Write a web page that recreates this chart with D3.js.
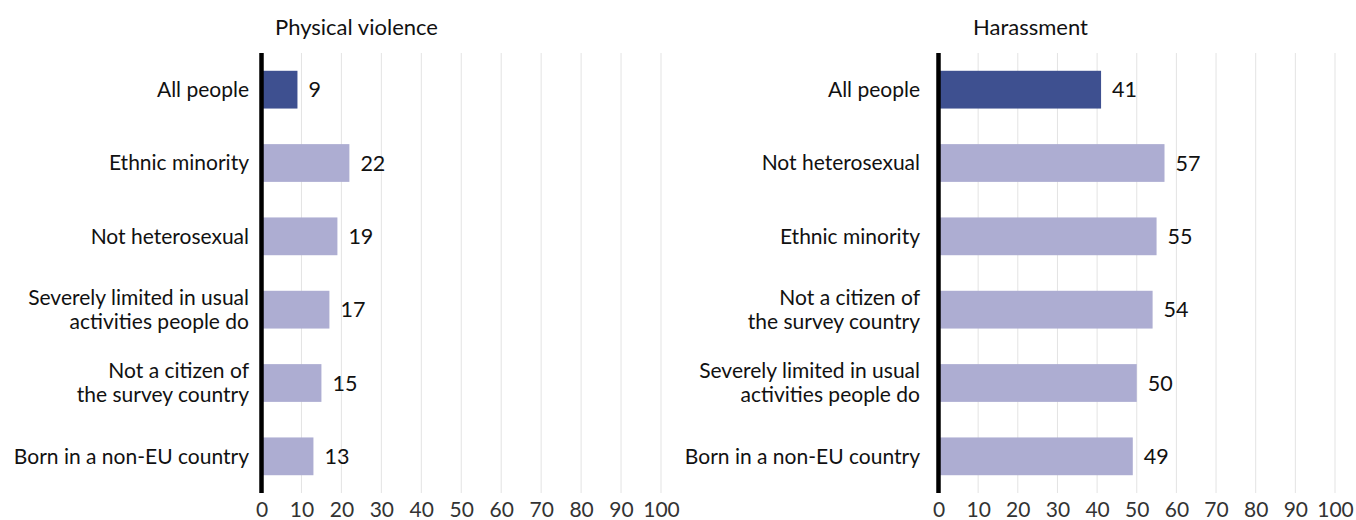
<!DOCTYPE html>
<html>
<head>
<meta charset="utf-8">
<script src="https://cdn.jsdelivr.net/npm/d3@7/dist/d3.min.js"></script>
<style>
  html, body { margin: 0; padding: 0; background: #fff; }
  svg { display: block; font-family: Lato, "Open Sans", sans-serif; }
</style>
</head>
<body>
<svg id="chart" width="1356" height="520"></svg>
<script>
// Share of people who experienced each type of incident (%)
const violenceCategories = [
  "All people",
  "Ethnic minority",
  "Not heterosexual",
  "Severely limited in usual|activities people do",
  "Not a citizen of|the survey country",
  "Born in a non-EU country"
];
const violenceValues = [9, 22, 19, 17, 15, 13];

const harassmentCategories = [
  "All people",
  "Not heterosexual",
  "Ethnic minority",
  "Not a citizen of|the survey country",
  "Severely limited in usual|activities people do",
  "Born in a non-EU country"
];
const harassmentValues = [41, 57, 55, 54, 50, 49];

const panelTitles = ["Physical violence", "Harassment"];
const tickValues = [0, 10, 20, 30, 40, 50, 60, 70, 80, 90, 100];

const svg = d3.select("#chart");
const DARK = "#3e5090";
const LIGHT = "#adadd2";

function drawPanel(cfg) {
  const x = d3.scaleLinear().domain([0, 100]).range([cfg.x0, cfg.x1]);
  const y = d3.scaleBand()
    .domain(cfg.categories)
    .range([53, 493])
    .paddingInner(0.485)
    .paddingOuter(0.2425);

  const g = svg.append("g");

  // vertical gridlines
  g.append("g")
    .selectAll("line")
    .data(tickValues.slice(1))
    .join("line")
    .attr("x1", d => x(d)).attr("x2", d => x(d))
    .attr("y1", 53).attr("y2", 493)
    .attr("stroke", "#e3e3e3")
    .attr("stroke-width", 1);

  // bottom axis tick labels
  const axis = d3.axisBottom(x).tickValues(tickValues).tickSize(0).tickPadding(0);
  const ax = g.append("g").attr("transform", "translate(0,499)").call(axis);
  ax.select(".domain").remove();
  ax.selectAll("text")
    .attr("font-family", "Lato, 'Open Sans', sans-serif")
    .attr("font-size", 21)
    .attr("fill", "#333")
    .attr("dy", "0.85em");

  // bars
  g.append("g")
    .selectAll("rect")
    .data(cfg.categories)
    .join("rect")
    .attr("x", x(0))
    .attr("y", d => y(d))
    .attr("width", (d, i) => x(cfg.values[i]) - x(0))
    .attr("height", y.bandwidth())
    .attr("fill", (d, i) => i === 0 ? DARK : LIGHT);

  // value labels
  g.append("g")
    .selectAll("text")
    .data(cfg.categories)
    .join("text")
    .attr("x", (d, i) => x(cfg.values[i]) + 11)
    .attr("y", d => y(d) + y.bandwidth() / 2)
    .attr("dy", "0.35em")
    .attr("font-size", 21.5)
    .attr("fill", "#111")
    .text((d, i) => cfg.values[i]);

  // category labels (multi-line where needed)
  const labels = g.append("g")
    .selectAll("text")
    .data(cfg.categories)
    .join("text")
    .attr("text-anchor", "end")
    .attr("font-size", 21)
    .attr("fill", "#111")
    .attr("y", d => y(d) + y.bandwidth() / 2);
  labels.each(function (d) {
    const lines = d.split("|");
    const t = d3.select(this);
    const lh = 24;
    lines.forEach((ln, k) => {
      t.append("tspan")
        .attr("x", cfg.labelX)
        .attr("dy", k === 0 ? (0.35 * 21 - (lines.length - 1) * lh / 2) + "px" : lh + "px")
        .text(ln);
    });
  });

  // baseline
  g.append("line")
    .attr("x1", x(0)).attr("x2", x(0))
    .attr("y1", 53).attr("y2", 493)
    .attr("stroke", "#000")
    .attr("stroke-width", 4.5);

  // title
  g.append("text")
    .attr("x", cfg.titleX)
    .attr("y", 35)
    .attr("font-size", 22)
    .attr("fill", "#111")
    .text(cfg.title);
}

drawPanel({
  title: panelTitles[0], categories: violenceCategories, values: violenceValues,
  x0: 261.5, x1: 661, labelX: 249, titleX: 275
});
drawPanel({
  title: panelTitles[1], categories: harassmentCategories, values: harassmentValues,
  x0: 938.5, x1: 1335, labelX: 920, titleX: 973
});
</script>
</body>
</html>
